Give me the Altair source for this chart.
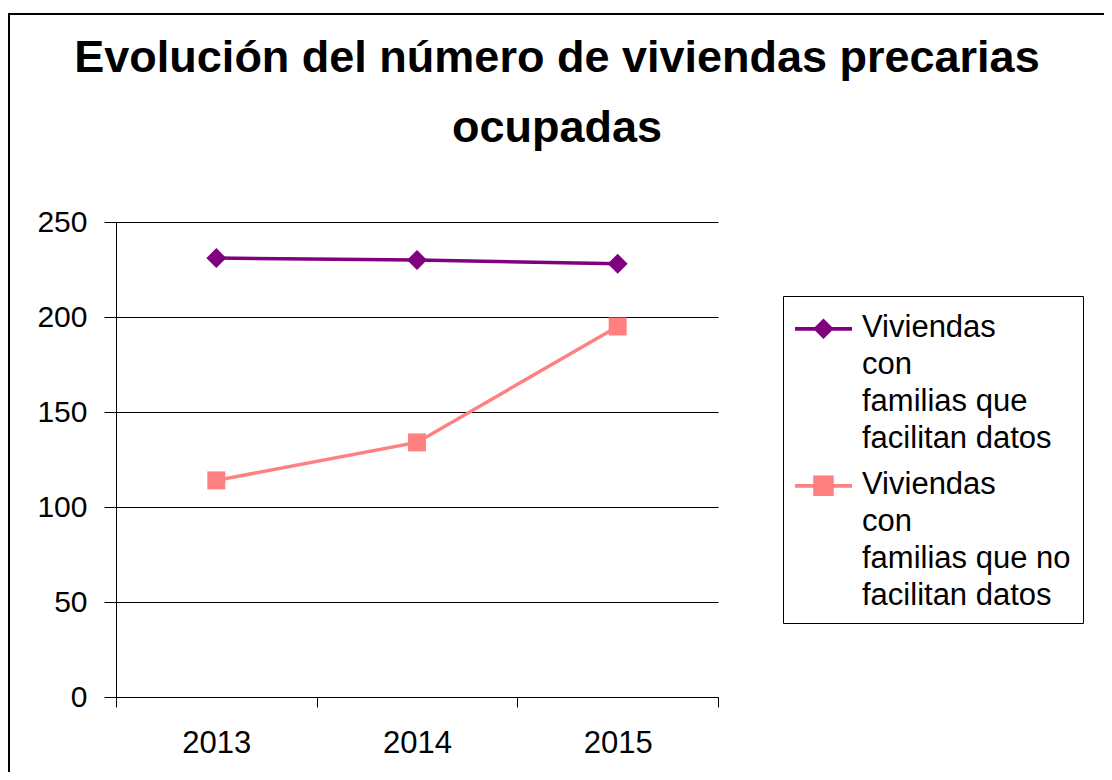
import altair as alt
import pandas as pd

# ---- data ----
years = [2013, 2014, 2015]
serie_facilitan = [231, 230, 228]
serie_no_facilitan = [114, 134, 195]
series_names = [
    "Viviendas\ncon\nfamilias que\nfacilitan datos",
    "Viviendas\n\u00a0con\nfamilias que no\nfacilitan datos",
]
series_colors = ["#800080", "#FF8080"]
series_shapes = ["diamond", "square"]
series_sizes = [400, 324]
y_ticks = [0, 50, 100, 150, 200, 250]
title_lines = ["Evolución del número de viviendas precarias", "ocupadas"]

rows = []
for yr, a, b in zip(years, serie_facilitan, serie_no_facilitan):
    rows.append({"year": yr, "value": a, "series": series_names[0]})
    rows.append({"year": yr, "value": b, "series": series_names[1]})
df = pd.DataFrame(rows)

FONT = "Liberation Sans"
W, H = 602, 475

x_bounds = [years[0] - 0.5] + [yr + 0.5 for yr in years]

x_enc = alt.X(
    "year:Q",
    scale=alt.Scale(domain=[x_bounds[0], x_bounds[-1]], nice=False, zero=False),
    axis=alt.Axis(
        title=None, values=x_bounds, grid=False, tickSize=10, tickColor="black",
        domainColor="black", labelFont=FONT, labelFontSize=31, labelColor="black",
        labelPadding=21, labelOffset=W / (2 * len(years)), labelOverlap=False,
        labelFlush=False, labelBound=False,
        labelExpr=f"datum.value < {x_bounds[-1]} ? format(datum.value + 0.5, 'd') : ''",
    ),
)
y_enc = alt.Y(
    "value:Q",
    scale=alt.Scale(domain=[y_ticks[0], y_ticks[-1]], nice=False),
    axis=alt.Axis(
        title=None, values=y_ticks, grid=True, gridColor="black", gridOpacity=1,
        gridWidth=1, tickSize=12, tickColor="black", domainColor="black",
        labelFont=FONT, labelFontSize=30, labelColor="black", labelPadding=17,
    ),
)

base = alt.Chart(df)

series_layers = []
for name, col, shp, sz in zip(series_names, series_colors, series_shapes, series_sizes):
    sub = base.transform_filter(alt.datum.series == name)
    series_layers.append(sub.mark_line(strokeWidth=3.5, color=col).encode(x=x_enc, y=y_enc))
    series_layers.append(
        sub.mark_point(shape=shp, filled=True, size=sz, opacity=1, color=col).encode(x=x_enc, y=y_enc)
    )

# legend symbols: line segment + marker, as in the reference
sym_diamond = ("M-1,-0.335H1V-0.205H-1Z "
               "M-0.36,-0.27L0,-0.63L0.36,-0.27L0,0.09Z")
sym_square = ("M-1,-0.335H1V-0.205H-1Z "
              "M-0.36,-0.63H0.36V0.09H-0.36Z")

legend_def = alt.Legend(title=None, labelExpr="split(datum.label, '\\n')")
legend_layer = base.transform_filter("false").mark_point(
    filled=True, opacity=1
).encode(
    x=x_enc, y=y_enc,
    color=alt.Color("series:N", scale=alt.Scale(domain=series_names, range=series_colors),
                    legend=legend_def),
    shape=alt.Shape("series:N", scale=alt.Scale(domain=series_names, range=[sym_diamond, sym_square]),
                    legend=legend_def),
)

frame = alt.Chart(alt.Data(values=[{"f": 1}])).mark_rect(
    fillOpacity=0, stroke="black", strokeWidth=2
).encode(
    x=alt.value(-107), x2=alt.value(1010), y=alt.value(-208), y2=alt.value(600)
)

chart = alt.layer(frame, *series_layers, legend_layer).properties(
    width=W, height=H,
    title=alt.Title(
        title_lines, font=FONT, fontSize=45, fontWeight="bold", color="black",
        anchor="middle", dx=140, dy=142, lineHeight=70,
    ),
    autosize=alt.AutoSizeParams(type="none"),
    padding={"left": 108, "top": 214, "right": 386, "bottom": 75},
).configure(
    style={"guide-label": {"lineHeight": 37}}
).configure_view(stroke=None).configure_legend(
    orient="none", legendX=667, legendY=74, padding=12,
    strokeColor="black", strokeWidth=1, fillColor="white",
    symbolSize=3249, symbolStrokeWidth=0, symbolOpacity=1,
    labelFont=FONT, labelFontSize=31, labelColor="black",
    labelBaseline="alphabetic", labelLimit=400, labelOffset=10, rowPadding=11,
)

chart.save("out.html", embed_options={"renderer": "svg", "actions": False})
